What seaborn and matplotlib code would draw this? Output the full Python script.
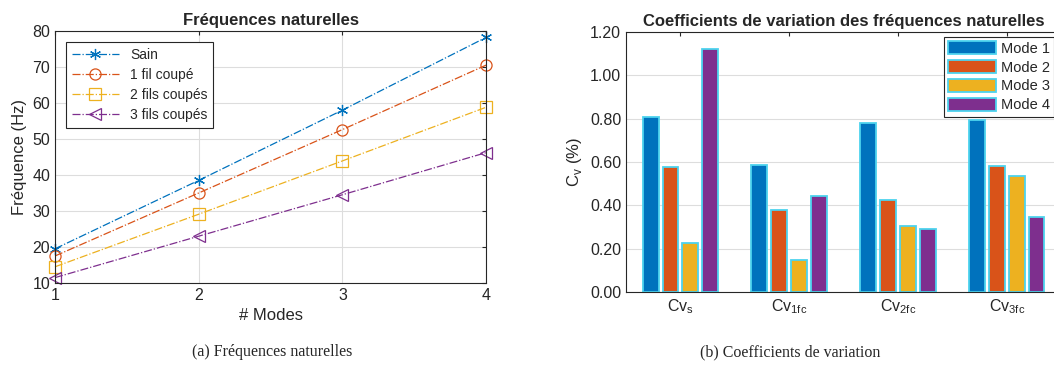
import numpy as np
import pandas as pd
import seaborn as sns
import matplotlib
matplotlib.use('Agg')
import matplotlib.pyplot as plt
from matplotlib.patches import Patch
from matplotlib.ticker import FormatStrFormatter

# --- data: natural frequencies (Hz) per mode ---
modes = [1, 2, 3, 4]
freq_sain = [19.5, 38.5, 58.0, 78.2]
freq_1fc = [17.5, 35.0, 52.6, 70.5]
freq_2fc = [14.5, 29.1, 43.9, 58.8]
freq_3fc = [11.5, 23.0, 34.5, 46.2]
series_names = ['Sain', '1 fil coupé', '2 fils coupés', '3 fils coupés']

# --- data: coefficients of variation (%) ---
cv_labels = ['Cv$_\\mathregular{s}$', 'Cv$_\\mathregular{1fc}$',
             'Cv$_\\mathregular{2fc}$', 'Cv$_\\mathregular{3fc}$']
cv_mode1 = [0.81, 0.585, 0.78, 0.795]
cv_mode2 = [0.575, 0.38, 0.425, 0.58]
cv_mode3 = [0.225, 0.15, 0.305, 0.535]
cv_mode4 = [1.12, 0.445, 0.29, 0.345]
mode_names = ['Mode 1', 'Mode 2', 'Mode 3', 'Mode 4']

colors = ['#0072BD', '#D95319', '#EDB120', '#7E2F8E']
edge_cyan = '#4DD3EE'

sns.set_style('white')
plt.rcParams['font.family'] = ['Liberation Sans', 'DejaVu Sans']
plt.rcParams['mathtext.fontset'] = 'custom'
plt.rcParams['mathtext.rm'] = 'Liberation Sans'
plt.rcParams['xtick.direction'] = 'in'
plt.rcParams['ytick.direction'] = 'in'

fig = plt.figure(figsize=(10.54, 3.68), dpi=100)

# ——————————————————————————————
# (a) natural frequencies
# ——————————————————————————————
ax1 = fig.add_axes([0.0522, 0.231, 0.409, 0.685])
df_freq = pd.DataFrame({
    'Mode': modes * 4,
    'Freq': freq_sain + freq_1fc + freq_2fc + freq_3fc,
    'Etat': np.repeat(series_names, 4),
})
markers = [(6, 2, 0), 'o', 's', '<']
for name, col, mk in zip(series_names, colors, markers):
    sub = df_freq[df_freq['Etat'] == name]
    sns.lineplot(data=sub, x='Mode', y='Freq', ax=ax1, color=col,
                 linestyle='-.', linewidth=0.9, marker=mk, markersize=8,
                 markerfacecolor='none', markeredgecolor=col,
                 markeredgewidth=0.9, label=name, clip_on=False)
ax1.set_xlim(1, 4)
ax1.set_ylim(10, 80)
ax1.set_xticks([1, 2, 3, 4])
ax1.set_yticks(range(10, 81, 10))
ax1.grid(True, color='#dddddd', linewidth=0.8)
ax1.tick_params(labelsize=11.5, colors='#262626', top=True, right=True, length=3)
ax1.set_xlabel('# Modes', fontsize=12, color='#262626')
ax1.set_ylabel('Fréquence (Hz)', fontsize=12, color='#262626')
ax1.set_title('Fréquences naturelles', fontsize=12, fontweight='bold', pad=4)
for s in ax1.spines.values():
    s.set_color('#262626')
    s.set_linewidth(0.8)
    s.set_zorder(5)
leg1 = ax1.legend(loc='upper left', fontsize=10, frameon=True, fancybox=False,
                  edgecolor='#262626', framealpha=1, handlelength=3.4,
                  borderaxespad=0.8, labelspacing=0.45)
leg1.get_frame().set_linewidth(0.8)

# ——————————————————————————————
# (b) coefficients of variation
# ——————————————————————————————
ax2 = fig.add_axes([0.594, 0.2065, 0.4127, 0.7065])
df_cv = pd.DataFrame({
    'Cv': cv_labels * 4,
    'Valeur': cv_mode1 + cv_mode2 + cv_mode3 + cv_mode4,
    'Mode': np.repeat(mode_names, 4),
})
sns.barplot(data=df_cv, x='Cv', y='Valeur', hue='Mode', palette=colors,
            saturation=1, width=0.73, gap=0.2, edgecolor=edge_cyan,
            linewidth=1.3, ax=ax2, legend=False)
ax2.set_xlim(-0.5, 3.5)
ax2.set_ylim(0, 1.2)
ax2.set_yticks(np.arange(0, 1.21, 0.2))
ax2.yaxis.set_major_formatter(FormatStrFormatter('%.2f'))
ax2.grid(True, axis='y', color='#dddddd', linewidth=0.8)
ax2.set_axisbelow(True)
ax2.tick_params(labelsize=11.5, colors='#262626', top=True, right=True, length=3)
ax2.set_xlabel('')
ax2.set_ylabel('C$_\\mathregular{v}$ (%)', fontsize=12, color='#262626')
ax2.set_title('Coefficients de variation des fréquences naturelles',
              fontsize=12, fontweight='bold', pad=4)
for s in ax2.spines.values():
    s.set_color('#262626')
    s.set_linewidth(0.8)
handles = [Patch(facecolor=c, edgecolor=edge_cyan, linewidth=1.3) for c in colors]
leg2 = ax2.legend(handles, mode_names, loc='upper right', fontsize=10.5,
                  frameon=True, fancybox=False, edgecolor='#262626', framealpha=1,
                  bbox_to_anchor=(1.0, 0.9), bbox_transform=fig.transFigure,
                  borderaxespad=0, handlelength=3.3, handleheight=1.0,
                  labelspacing=0.3, handletextpad=0.3, borderpad=0.3)
leg2.get_frame().set_linewidth(0.8)

# captions
fig.text(0.258, 0.043, '(a) Fréquences naturelles', ha='center', va='center',
         fontsize=11.5, family=['Liberation Serif', 'DejaVu Serif'])
fig.text(0.75, 0.043, '(b) Coefficients de variation', ha='center', va='center',
         fontsize=11.5, family=['Liberation Serif', 'DejaVu Serif'])

fig.savefig('out.png', dpi=100)
